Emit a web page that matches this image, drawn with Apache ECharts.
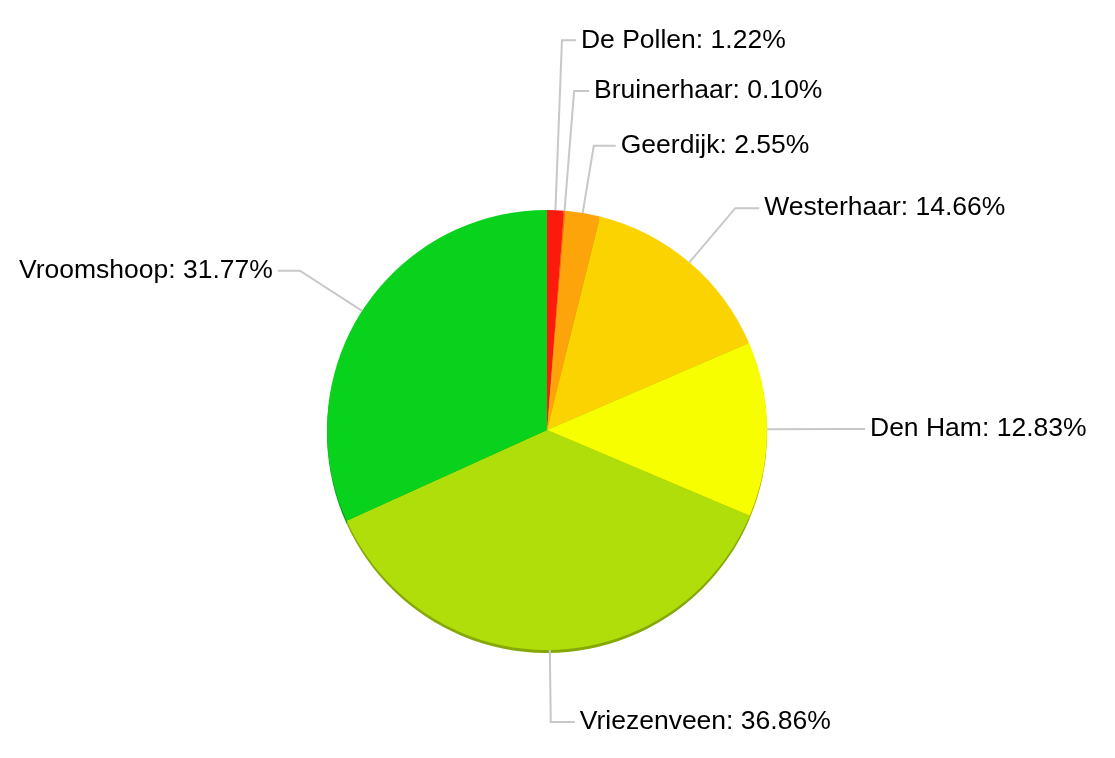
<!DOCTYPE html>
<html>
<head>
<meta charset="UTF-8">
<script src="https://cdn.jsdelivr.net/npm/echarts@6/dist/echarts.min.js"></script>
<style>
  html, body { margin: 0; padding: 0; background: #fff; }
  #chart { width: 1115px; height: 758px; }
</style>
</head>
<body>
<div id="chart"></div>
<script>
// plaatsen en aandelen (%)
var places = ['De Pollen', 'Bruinerhaar', 'Geerdijk', 'Westerhaar', 'Den Ham', 'Vriezenveen', 'Vroomshoop'];
var shares = [1.22, 0.10, 2.55, 14.66, 12.83, 36.86, 31.77];

// stijl per taartpunt
var colors = ['#fb1a0c', '#fd6a06', '#fea40b', '#fbd300', '#f6fe00', '#b0de0a', '#08d21c'];
var rimColors = ['#b81208', '#b84c04', '#b87708', '#b89a00', '#b0b800', '#86a806', '#06a014'];
var lineLen = [170, 120, 68, 71, 70, 72, 74];
var lineLen2 = [14, 15, 22, 24, 28, 24, 22];

var chart = echarts.init(document.getElementById('chart'));

var slices = places.map(function (p, i) {
  return {
    name: p,
    value: shares[i],
    itemStyle: { color: colors[i] },
    labelLine: { length: lineLen[i], length2: lineLen2[i] }
  };
});
var rim = places.map(function (p, i) {
  return { name: p, value: shares[i], itemStyle: { color: rimColors[i] } };
});

var option = {
  animation: false,
  series: [
    {
      // donkere rand onder de taart
      type: 'pie',
      silent: true,
      z: 1,
      center: [547, 433],
      radius: 220,
      startAngle: 90,
      label: { show: false },
      labelLine: { show: false },
      data: rim
    },
    {
      type: 'pie',
      z: 2,
      center: [547, 430],
      radius: 220,
      startAngle: 90,
      avoidLabelOverlap: false,
      itemStyle: { borderWidth: 0 },
      label: {
        show: true,
        position: 'outside',
        distanceToLabelLine: 5,
        padding: [6, 0, 0, 0],
        fontFamily: 'Liberation Sans',
        fontSize: 26.5,
        color: '#000',
        formatter: function (p) { return p.name + ': ' + p.value.toFixed(2) + '%'; }
      },
      labelLine: {
        show: true,
        lineStyle: { color: '#c8c8c8', width: 2 }
      },
      data: slices
    }
  ]
};
chart.setOption(option);
</script>
</body>
</html>
